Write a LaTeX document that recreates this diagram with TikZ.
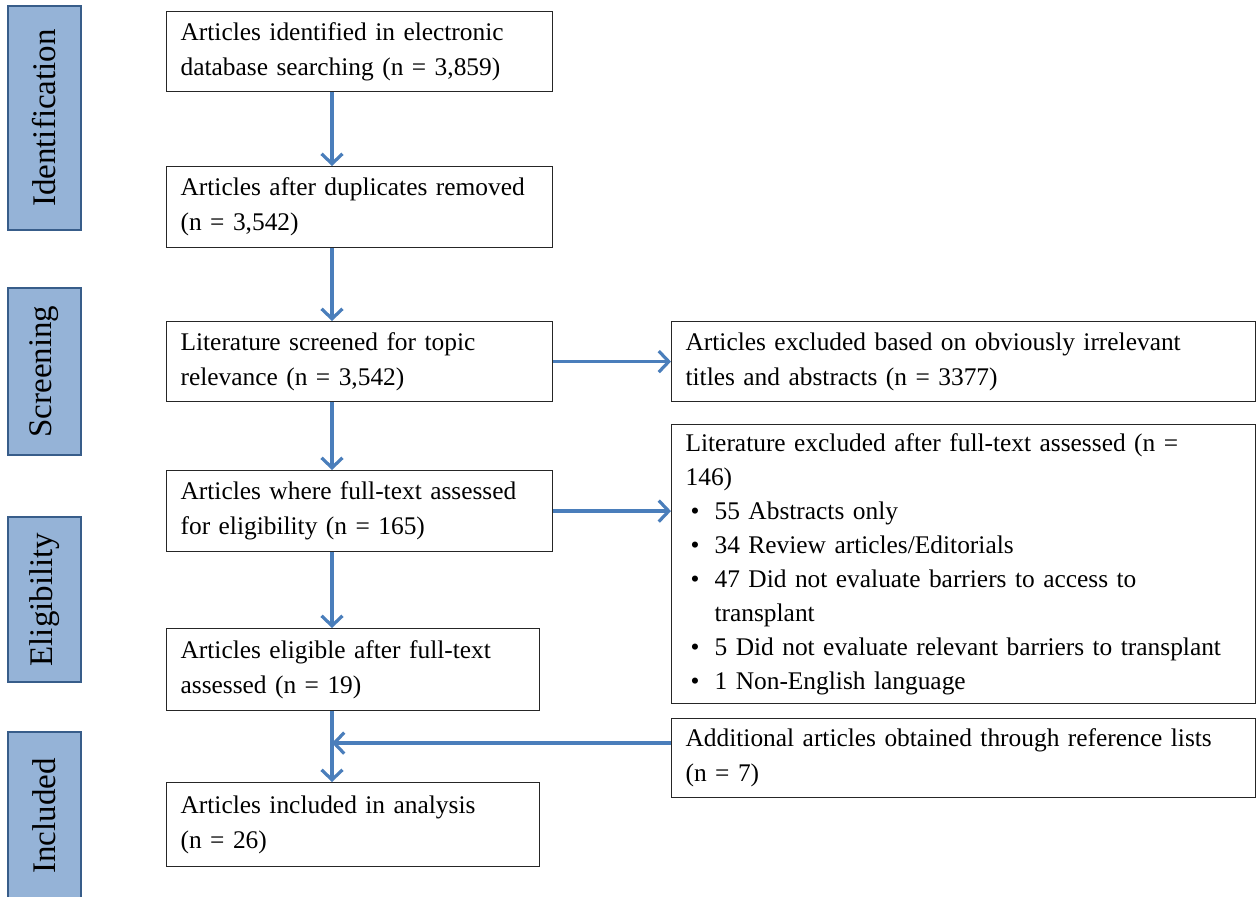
\documentclass[tikz,border=0pt]{standalone}
\usepackage{fontspec}
\setmainfont{Liberation Serif}
\usepackage{tikz}
\usetikzlibrary{arrows.meta}
\definecolor{flowblue}{HTML}{4A7EBB}
\definecolor{barfill}{HTML}{95B3D7}
\definecolor{barline}{HTML}{385D8A}
\newcommand\exitem[1]{\hspace*{2.5pt}\makebox[12pt][l]{\textbullet}#1}
\tikzset{
   stagebox/.style={draw=barline, fill=barfill, line width=0.8pt, rotate=90,
      minimum height=36.5pt, inner sep=0pt, font=\fontsize{16.5}{18}\selectfont},
   textbox/.style={draw=black!85, line width=0.6pt, anchor=north west, align=left,
      inner xsep=7pt, inner ysep=3pt, font=\fontsize{12.7}{17.5}\selectfont},
   flow/.style={draw=flowblue, line width=1.6pt, -{Straight Barb[length=5pt,width=10.5pt]}}
}
\begin{document}
\begin{tikzpicture}[x=0.5pt, y=-0.5pt]
   \useasboundingbox (0,0) rectangle (1259,897);
   \node[stagebox, minimum width=112pt] (ident) at (44.5,118) {Identification};
   \node[stagebox, minimum width=83.5pt] (screen) at (44.5,371.5) {Screening};
   \node[stagebox, minimum width=82.5pt] (elig) at (44.5,599.5) {Eligibility};
   \node[stagebox, minimum width=84pt] (incl) at (44.5,816) {Included};

   \node[textbox, text width=179pt, minimum height=40pt] (found) at (166,11)
      {Articles identified in electronic\\database searching (n = 3,859)};
   \node[textbox, text width=179pt, minimum height=40.5pt] (dedup) at (166,166)
      {Articles after duplicates removed\\(n = 3,542)};
   \node[textbox, text width=179pt, minimum height=40pt] (screened) at (166,321)
      {Literature screened for topic\\relevance (n = 3,542)};
   \node[textbox, text width=179pt, minimum height=40.5pt] (fulltext) at (166,470)
      {Articles where full-text assessed\\for eligibility (n = 165)};
   \node[textbox, text width=172.5pt, minimum height=41pt] (eligible) at (166,628)
      {Articles eligible after full-text\\assessed (n = 19)};
   \node[textbox, text width=172.5pt, minimum height=42pt] (included) at (166,782)
      {Articles included in analysis\\(n = 26)};

   \node[textbox, text width=278pt, minimum height=40pt] (irrel) at (671,321)
      {Articles excluded based on obviously irrelevant\\titles and abstracts (n = 3377)};
   \node[textbox, text width=278pt, minimum height=139.5pt, font=\fontsize{12.7}{17}\selectfont] (excl) at (671,424)
      {Literature excluded after full-text assessed (n =\\146)\\
       \exitem{55 Abstracts only}\\
       \exitem{34 Review articles/Editorials}\\
       \exitem{47 Did not evaluate barriers to access to}\\
       \hspace*{14.5pt}transplant\\
       \exitem{5 Did not evaluate relevant barriers to transplant}\\
       \exitem{1 Non-English language}};
   \node[textbox, text width=278pt, minimum height=39.5pt] (extra) at (671,718)
      {Additional articles obtained through reference lists\\(n = 7)};

   \coordinate (spine) at (332,0);
   \draw[flow] (found.south -| spine) -- (dedup.north -| spine);
   \draw[flow] (dedup.south -| spine) -- (screened.north -| spine);
   \draw[flow] (screened.south -| spine) -- (fulltext.north -| spine);
   \draw[flow] (fulltext.south -| spine) -- (eligible.north -| spine);
   \draw[flow] (eligible.south -| spine) -- (included.north -| spine);
   \draw[flow] (screened.east) -- (irrel.west);
   \draw[flow] (fulltext.east) -- (fulltext.east -| excl.west);
   \draw[flow] ([yshift=7.5pt]extra.west) -- ([yshift=7.5pt]extra.west -| spine);
\end{tikzpicture}
\end{document}
